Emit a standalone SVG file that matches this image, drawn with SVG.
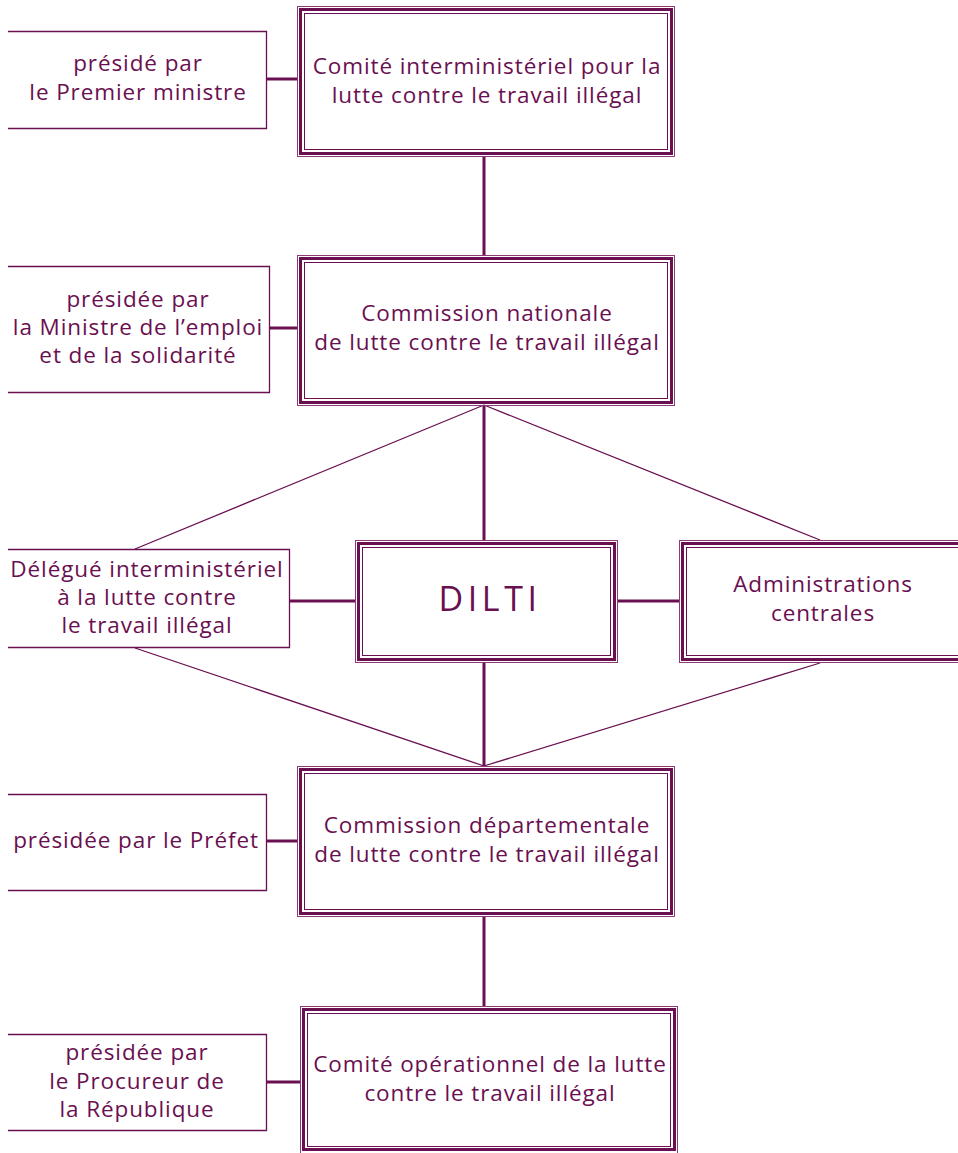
<svg xmlns="http://www.w3.org/2000/svg" width="958" height="1153" viewBox="0 0 958 1153">
<style>
text{font-family:"Open Sans","Liberation Sans",sans-serif;font-size:22.5px;letter-spacing:0.9px;fill:#6a0f50;text-anchor:middle}
.o{fill:none;stroke:#8a3a74;stroke-width:1}
.t{fill:none;stroke:#6a0f50;stroke-width:3}
.i{fill:none;stroke:#6a0f50;stroke-width:1}
.l{fill:#fff;stroke:#6a0f50;stroke-width:1.3}
.c{stroke:#6a0f50;stroke-width:3;fill:none}
.d{stroke:#6a0f50;stroke-width:1.3;fill:none}
text.big{font-size:34px;letter-spacing:4.6px}
</style>
<rect width="958" height="1153" fill="#fff"/>
<g id="connectors">
<line class="c" x1="484" y1="157" x2="484" y2="255"/>
<line class="c" x1="484" y1="405" x2="484" y2="540"/>
<line class="c" x1="484" y1="663" x2="484" y2="766"/>
<line class="c" x1="484" y1="916" x2="484" y2="1006"/>
<line class="c" x1="267" y1="79" x2="298" y2="79"/>
<line class="c" x1="270" y1="328" x2="298" y2="328"/>
<line class="c" x1="290" y1="601" x2="355" y2="601"/>
<line class="c" x1="618" y1="601" x2="679" y2="601"/>
<line class="c" x1="267" y1="841" x2="298" y2="841"/>
<line class="c" x1="267" y1="1082" x2="301" y2="1082"/>
<line class="d" x1="484" y1="405" x2="135" y2="549"/>
<line class="d" x1="484" y1="405" x2="820" y2="540"/>
<line class="d" x1="135" y1="648" x2="484" y2="766"/>
<line class="d" x1="820" y1="663" x2="484" y2="766"/>
</g>
<g id="n1">
<rect class="o" x="297.5" y="6.5" width="377" height="150"/>
<rect class="t" x="300.5" y="9.5" width="371" height="144"/>
<rect class="i" x="304.5" y="13.5" width="363" height="136"/>
<text x="487" y="74">Comité interministériel pour la</text>
<text x="487" y="103">lutte contre le travail illégal</text>
</g>
<g id="l1">
<path class="l" d="M8,31.5H266.5V128.5H8"/>
<text x="138" y="71">présidé par</text>
<text x="138" y="100">le Premier ministre</text>
</g>
<g id="n2">
<rect class="o" x="297.5" y="255.5" width="377" height="150"/>
<rect class="t" x="300.5" y="258.5" width="371" height="144"/>
<rect class="i" x="304.5" y="262.5" width="363" height="136"/>
<text x="487" y="321">Commission nationale</text>
<text x="487" y="350">de lutte contre le travail illégal</text>
</g>
<g id="l2">
<path class="l" d="M8,266.5H269.5V392.5H8"/>
<text x="138" y="307">présidée par</text>
<text x="138" y="335">la Ministre de l’emploi</text>
<text x="138" y="363">et de la solidarité</text>
</g>
<g id="dilti">
<rect class="o" x="355.5" y="540.5" width="262" height="122"/>
<rect class="t" x="358.5" y="543.5" width="256" height="116"/>
<rect class="i" x="362.5" y="547.5" width="248" height="108"/>
<text class="big" x="490" y="611">DILTI</text>
</g>
<g id="delegue">
<path class="l" d="M8,549.5H289.5V647.5H8"/>
<text x="147" y="577">Délégué interministériel</text>
<text x="147" y="605">à la lutte contre</text>
<text x="147" y="633">le travail illégal</text>
</g>
<g id="admin">
<rect class="o" x="679.5" y="540.5" width="290" height="122"/>
<rect class="t" x="682.5" y="543.5" width="290" height="116"/>
<rect class="i" x="686.5" y="547.5" width="290" height="108"/>
<text x="823" y="592">Administrations</text>
<text x="823" y="621">centrales</text>
</g>
<g id="n4">
<rect class="o" x="297.5" y="766.5" width="377" height="150"/>
<rect class="t" x="300.5" y="769.5" width="371" height="144"/>
<rect class="i" x="304.5" y="773.5" width="363" height="136"/>
<text x="487" y="833">Commission départementale</text>
<text x="487" y="862">de lutte contre le travail illégal</text>
</g>
<g id="l4">
<path class="l" d="M8,794.5H266.5V890.5H8"/>
<text x="136" y="848">présidée par le Préfet</text>
</g>
<g id="n5">
<rect class="o" x="300.5" y="1006.5" width="377" height="150"/>
<rect class="t" x="303.5" y="1009.5" width="371" height="140"/>
<rect class="i" x="307.5" y="1013.5" width="363" height="133"/>
<text x="490" y="1072">Comité opérationnel de la lutte</text>
<text x="490" y="1101">contre le travail illégal</text>
</g>
<g id="l5">
<path class="l" d="M8,1034.5H266.5V1130.5H8"/>
<text x="137" y="1060">présidée par</text>
<text x="137" y="1089">le Procureur de</text>
<text x="137" y="1117">la République</text>
</g>
</svg>
